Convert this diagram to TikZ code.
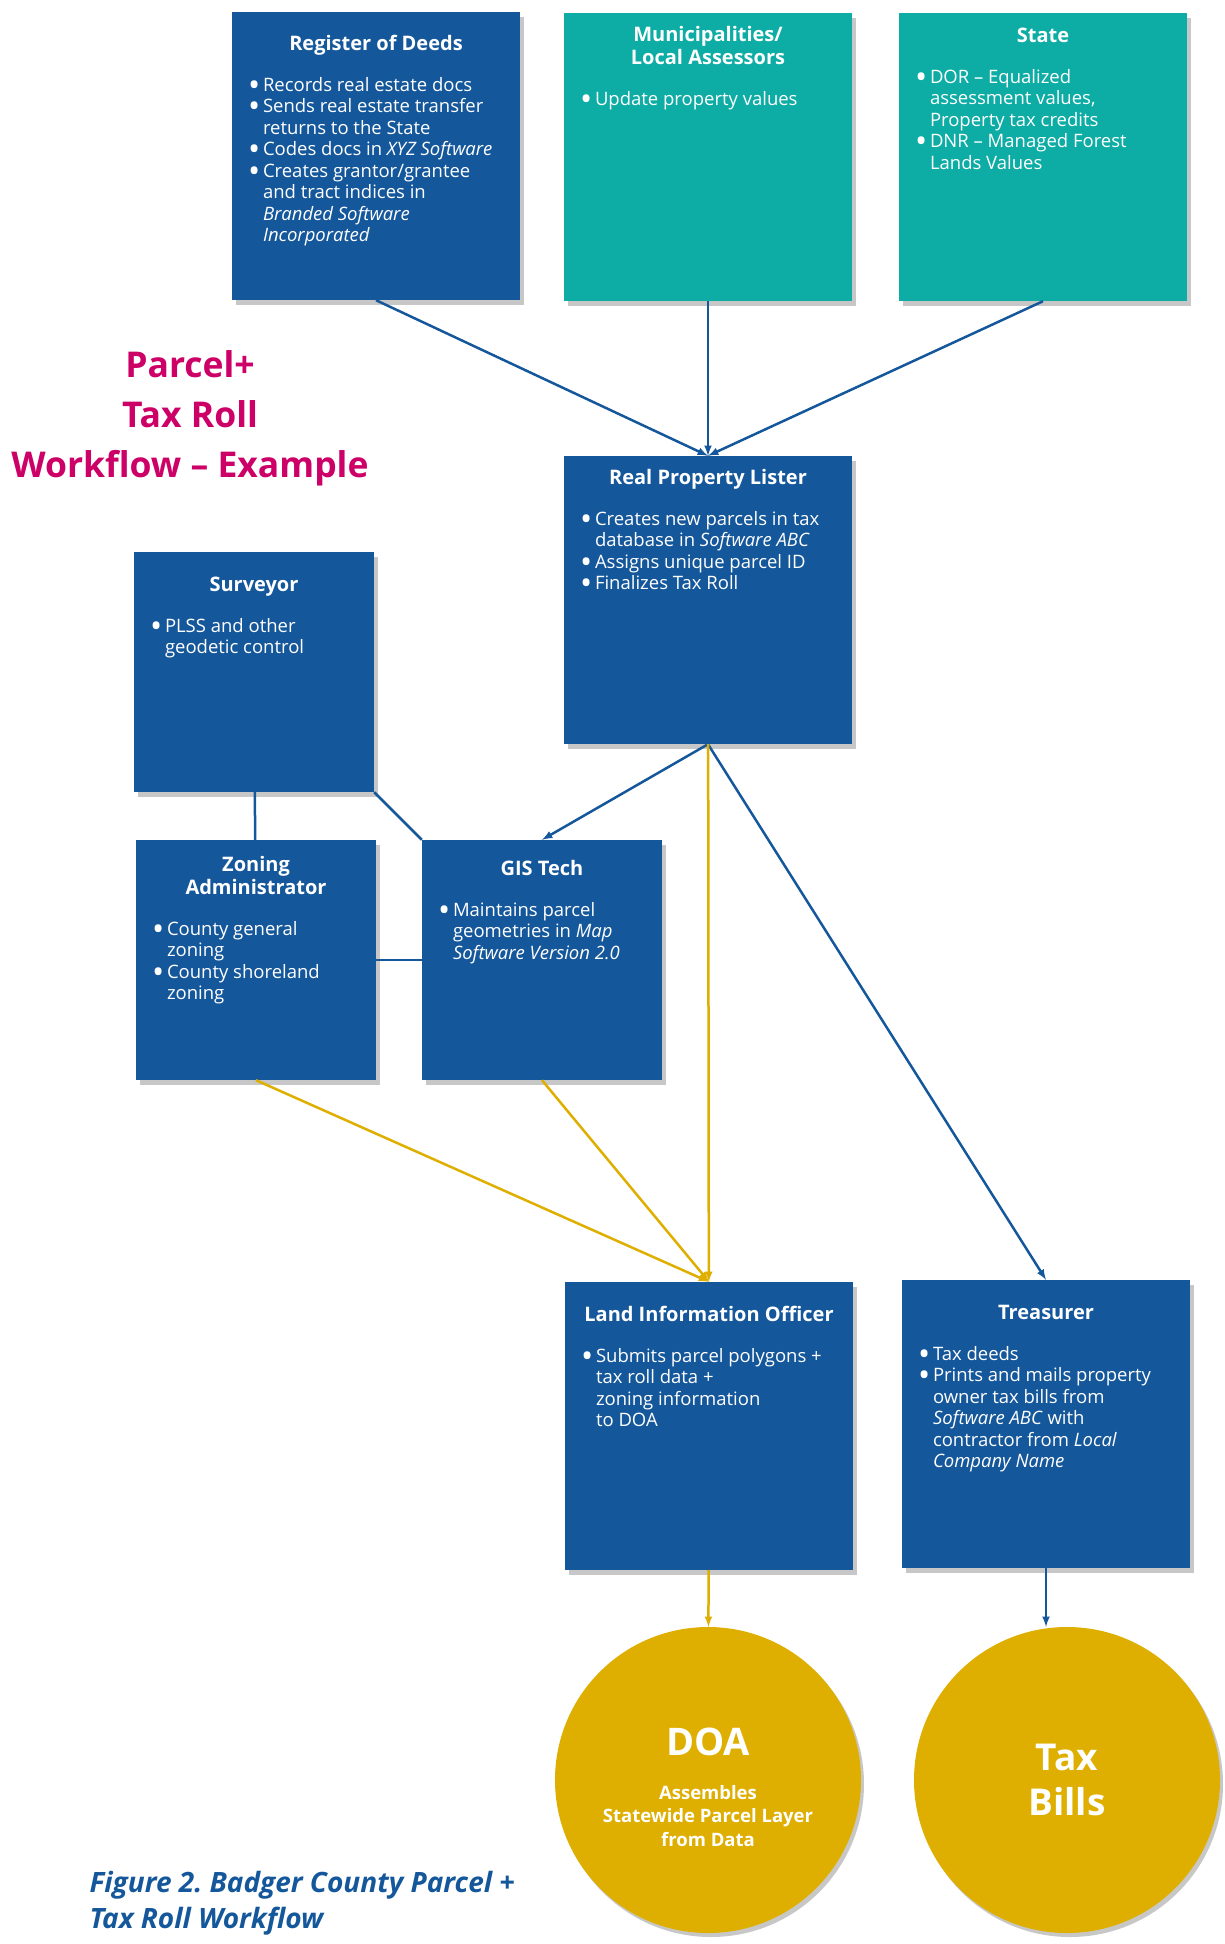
\documentclass[tikz,border=0pt]{standalone}
\usepackage{fontspec}
\setmainfont{Open Sans}
\usetikzlibrary{shapes,arrows,backgrounds}
\definecolor{cardblue}{RGB}{21,87,155}
\definecolor{cardteal}{RGB}{13,172,164}
\definecolor{doagold}{RGB}{222,175,0}
\definecolor{titlepink}{RGB}{204,0,102}
\tikzset{
	card/.style      = {rectangle, fill=cardblue, text=white, inner sep=0pt,
		minimum width=288pt, minimum height=288pt},
	tealcard/.style  = {card, fill=cardteal},
	smallcard/.style = {card, minimum width=240pt, minimum height=240pt},
	goal/.style      = {circle, fill=doagold, text=white, inner sep=0pt,
		minimum size=306pt},
	cardshadow/.style = {fill=black, opacity=0.22}, % drop shadow
	flow/.style      = {draw=cardblue, line width=2.5pt}, % blue connector
	goldflow/.style  = {draw=doagold, line width=2.5pt}  % data to DOA
}
% one bullet line of a card
\newcommand{\itm}[1]{\par\noindent\hangindent=15pt\hangafter=1%
	\makebox[15pt][l]{\smash{\raisebox{-5pt}{\scalebox{1.75}{\textbullet}}}}#1}
% card body: width, height, top pad, title, bullets
\newcommand{\cardtext}[5]{\parbox[c][#2][t]{#1}{\vspace*{#3}%
	{\centering\fontsize{20}{23}\selectfont\bfseries #4\par}%
	\vspace{19.5pt}\fontsize{18.5}{21.5}\selectfont #5}}

\begin{document}
\begin{tikzpicture}[x=1pt, y=-1pt, >=latex]
	\useasboundingbox (0,0) rectangle (1225,1944);
	\draw
	node at (376,156) [card] (rod) {\cardtext{256pt}{288pt}{23pt}{Register of Deeds}{%
		\itm{Records real estate docs}
		\itm{Sends real estate transfer\\returns to the State}
		\itm{Codes docs in \textit{XYZ Software}}
		\itm{Creates grantor/grantee\\and tract indices in\\\textit{Branded Software}\\\textit{Incorporated}}}}
	node at (708,157) [tealcard] (muni) {\cardtext{256pt}{288pt}{13pt}{Municipalities/\\Local Assessors}{%
		\itm{Update property values}}}
	node at (1043,157) [tealcard] (state) {\cardtext{256pt}{288pt}{15pt}{State}{%
		\itm{DOR – Equalized\\assessment values,\\Property tax credits}
		\itm{DNR – Managed Forest\\Lands Values}}}
	node at (708,600) [card] (rpl) {\cardtext{256pt}{288pt}{13pt}{Real Property Lister}{%
		\itm{Creates new parcels in tax\\database in \textit{Software ABC}}
		\itm{Assigns unique parcel ID}
		\itm{Finalizes Tax Roll}}}
	node at (254,672) [smallcard] (surv) {\cardtext{208pt}{240pt}{25pt}{Surveyor}{%
		\itm{PLSS and other\\geodetic control}}}
	node at (256,960) [smallcard] (zon) {\cardtext{208pt}{240pt}{16pt}{Zoning\\Administrator}{%
		\itm{County general\\zoning}
		\itm{County shoreland\\zoning}}}
	node at (542,960) [smallcard] (gis) {\cardtext{208pt}{240pt}{20pt}{GIS Tech}{%
		\itm{Maintains parcel\\geometries in \textit{Map}\\\textit{Software Version 2.0}}}}
	node at (709,1426) [card] (lio) {\cardtext{256pt}{288pt}{24pt}{Land Information Officer}{%
		\itm{Submits parcel polygons +\\tax roll data +\\zoning information\\to DOA}}}
	node at (1046,1424) [card] (treas) {\cardtext{256pt}{288pt}{25pt}{Treasurer}{%
		\itm{Tax deeds}
		\itm{Prints and mails property\\owner tax bills from\\\textit{Software ABC} with\\contractor from \textit{Local}\\\textit{Company Name}}}}
	node at (708,1780) [goal] (doa) {\parbox[c][200pt][t]{216pt}{\centering\bfseries
		\vspace*{48pt}{\fontsize{38}{44}\selectfont DOA\par}\vspace{20pt}
		\fontsize{18.5}{23.5}\selectfont Assembles\\Statewide Parcel Layer\\from Data}}
	node at (1067,1780) [goal, align=center, font=\fontsize{37}{45}\selectfont\bfseries] (bills) {Tax\\Bills}
	node at (190,418) [text=titlepink, align=center, font=\fontsize{35.5}{50}\selectfont\bfseries] (ttl)
		{Parcel+\\Tax Roll\\Workflow – Example}
	node at (86,1903) [anchor=west, text=cardblue, align=left,
		font=\fontsize{28}{36}\selectfont\bfseries\itshape\frenchspacing] (cap)
		{Figure 2. Badger County Parcel +\\Tax Roll Workflow};

	% shadows behind the cards and the two goals
	\begin{pgfonlayer}{background}
	\foreach \n in {rod,muni,state,rpl,surv,zon,gis,lio,treas}
		\fill[cardshadow] ([shift={(4pt,-5pt)}]\n.south west) rectangle ([shift={(4pt,-5pt)}]\n.north east);
	\foreach \n in {doa,bills}
		\fill[cardshadow] ([shift={(3pt,-4pt)}]\n.center) circle (153pt);
	\end{pgfonlayer}

	\coordinate (tb) at (treas.south |- bills.north);

	\draw[flow,->](rod.south)--(rpl.north);
	\draw[flow,->](muni)--(rpl);
	\draw[flow,->](state.south)--(rpl.north);
	\draw[flow,->](rpl.south)--(gis.north);
	\draw[flow,->](rpl.south)--(treas.north);
	\draw[flow](surv)--(zon);
	\draw[flow](surv.south east)--(gis.north west);
	\draw[flow](zon)--(gis);
	\draw[goldflow,->](rpl)--(lio);
	\draw[goldflow,->](zon.south)--(lio.north);
	\draw[goldflow,->](gis.south)--(lio.north);
	\draw[goldflow,->](lio)--(doa);
	\draw[flow,->](treas.south)--(tb);
\end{tikzpicture}
\end{document}
